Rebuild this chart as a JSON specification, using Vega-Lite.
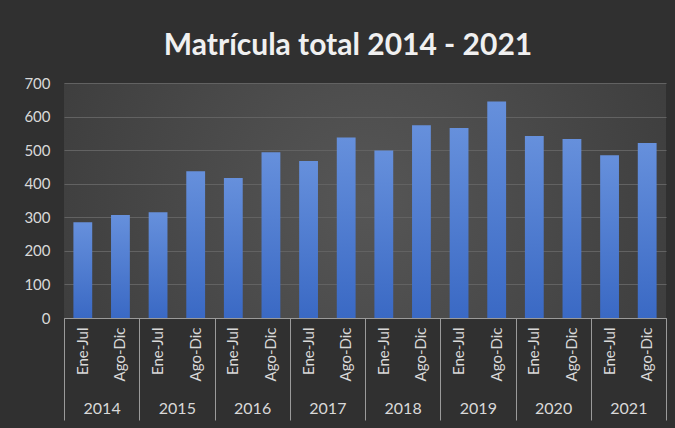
{
  "$schema": "https://vega.github.io/schema/vega-lite/v6.json",
  "width": 602,
  "height": 235,
  "autosize": {"type": "none"},
  "padding": {"left": 64, "top": 83, "right": 9, "bottom": 110},
  "background": "#303030",
  "title": {
    "text": "Matrícula total 2014 - 2021",
    "font": "Lato",
    "fontSize": 30,
    "fontWeight": "bold",
    "color": "#f0f0f0",
    "anchor": "middle",
    "frame": "group",
    "dx": -17,
    "offset": -150
  },
  "data": {
    "values": [
      {"key": "2014 Ene-Jul", "year": "2014", "period": "Ene-Jul", "value": 285},
      {"key": "2014 Ago-Dic", "year": "2014", "period": "Ago-Dic", "value": 307},
      {"key": "2015 Ene-Jul", "year": "2015", "period": "Ene-Jul", "value": 315},
      {"key": "2015 Ago-Dic", "year": "2015", "period": "Ago-Dic", "value": 437},
      {"key": "2016 Ene-Jul", "year": "2016", "period": "Ene-Jul", "value": 417},
      {"key": "2016 Ago-Dic", "year": "2016", "period": "Ago-Dic", "value": 494},
      {"key": "2017 Ene-Jul", "year": "2017", "period": "Ene-Jul", "value": 468},
      {"key": "2017 Ago-Dic", "year": "2017", "period": "Ago-Dic", "value": 538},
      {"key": "2018 Ene-Jul", "year": "2018", "period": "Ene-Jul", "value": 499},
      {"key": "2018 Ago-Dic", "year": "2018", "period": "Ago-Dic", "value": 574},
      {"key": "2019 Ene-Jul", "year": "2019", "period": "Ene-Jul", "value": 566},
      {"key": "2019 Ago-Dic", "year": "2019", "period": "Ago-Dic", "value": 645},
      {"key": "2020 Ene-Jul", "year": "2020", "period": "Ene-Jul", "value": 542},
      {"key": "2020 Ago-Dic", "year": "2020", "period": "Ago-Dic", "value": 533},
      {"key": "2021 Ene-Jul", "year": "2021", "period": "Ene-Jul", "value": 485},
      {"key": "2021 Ago-Dic", "year": "2021", "period": "Ago-Dic", "value": 521}
    ]
  },
  "layer": [
    {
      "mark": {
        "type": "bar",
        "fill": {
          "gradient": "linear",
          "x1": 0, "y1": 0, "x2": 0, "y2": 1,
          "stops": [
            {"offset": 0, "color": "#6690dc"},
            {"offset": 1, "color": "#3a69c4"}
          ]
        }
      },
      "encoding": {
        "x": {
          "field": "key",
          "type": "nominal",
          "sort": null,
          "scale": {"paddingInner": 0.5, "paddingOuter": 0.25},
          "axis": {
            "title": null,
            "labelExpr": "split(datum.label, ' ')[1]",
            "labelAngle": -90,
            "ticks": false,
            "labelPadding": 9,
            "domainColor": "#9a9a9a",
            "labelColor": "#d9d9d9",
            "labelFont": "Lato",
            "labelFontSize": 15,
            "labelOverlap": false,
            "grid": false
          }
        },
        "y": {
          "field": "value",
          "type": "quantitative",
          "scale": {"domain": [0, 700]},
          "axis": {
            "title": null,
            "values": [0, 100, 200, 300, 400, 500, 600, 700],
            "labelOverlap": false,
            "domain": false,
            "ticks": false,
            "labelPadding": 14,
            "gridColor": "#626262",
            "labelColor": "#d9d9d9",
            "labelFont": "Lato",
            "labelFontSize": 15
          }
        }
      }
    },
    {
      "mark": {"type": "bar", "opacity": 0},
      "encoding": {
        "x": {
          "field": "year",
          "type": "nominal",
          "scale": {"paddingInner": 0, "paddingOuter": 0},
          "axis": {
            "orient": "bottom",
            "title": null,
            "tickBand": "extent",
            "tickSize": 102,
            "tickColor": "#9a9a9a",
            "domainColor": "#9a9a9a",
            "labelAngle": 0,
            "labelPadding": -20,
            "labelColor": "#d9d9d9",
            "labelFont": "Lato",
            "labelFontSize": 16,
            "grid": false
          }
        },
        "y": {
          "field": "value",
          "type": "quantitative",
          "axis": {
            "title": null,
            "values": [0, 100, 200, 300, 400, 500, 600, 700],
            "labelOverlap": false,
            "domain": false,
            "ticks": false,
            "labelPadding": 14,
            "gridColor": "#626262",
            "labelColor": "#d9d9d9",
            "labelFont": "Lato",
            "labelFontSize": 15
          }
        }
      }
    }
  ],
  "resolve": {"scale": {"x": "independent"}, "axis": {"x": "independent"}},
  "config": {
    "view": {
      "stroke": null,
      "fill": {
        "gradient": "radial",
        "x1": 0.5, "y1": 0.5, "r1": 0,
        "x2": 0.5, "y2": 0.5, "r2": 0.75,
        "stops": [
          {"offset": 0, "color": "#565656"},
          {"offset": 1, "color": "#353535"}
        ]
      }
    }
  }
}
